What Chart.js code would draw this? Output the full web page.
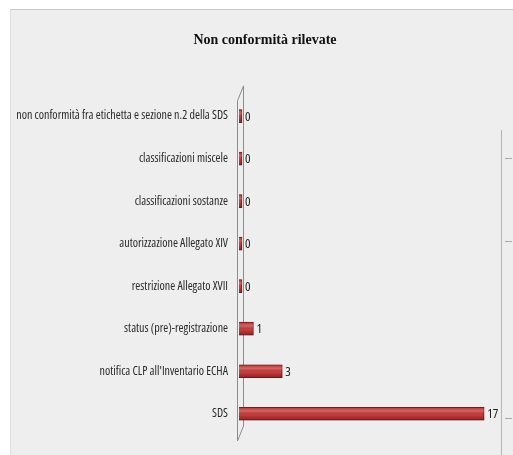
<!DOCTYPE html>
<html>
<head>
<meta charset="utf-8">
<script src="https://cdn.jsdelivr.net/npm/chart.js@4"></script>
<style>
  html, body { margin:0; padding:0; background:#fff; }
  #panel { position:absolute; left:10px; top:9px; width:503px; height:446px;
           background:#eeeeee; border-top:1px solid #c8c8c8; border-left:1px solid #e0e0e0; box-sizing:border-box; }
  #legendEdge { position:absolute; left:501px; top:130px; width:12px; height:325px;
                border-left:1px solid #b4b4b4; box-sizing:border-box; }
  .dash { position:absolute; left:505px; width:7px; height:1px; background:#aaa; }
  canvas { position:absolute; left:0; top:0; }
</style>
</head>
<body>
<div id="panel"><canvas id="c" width="502" height="445"></canvas></div>
<div id="legendEdge"></div>
<div class="dash" style="top:158px"></div>
<div class="dash" style="top:241px"></div>
<div class="dash" style="top:418px"></div>
<script>
// Non conformità rilevate — horizontal 3D-style bar chart
const categories = [
  'non conformità fra etichetta e sezione n.2 della SDS',
  'classificazioni miscele',
  'classificazioni sostanze',
  'autorizzazione Allegato XIV',
  'restrizione Allegato XVII',
  'status (pre)-registrazione',
  "notifica CLP all'Inventario ECHA",
  'SDS'
];
const counts = [0, 0, 0, 0, 0, 1, 3, 17];

// Open Sans is variable: 'condensed' in the weight slot gives a narrow face
const FONT = '"Open Sans", sans-serif';

// the thin 3D wall behind the category axis
const wall = {
  id: 'wall',
  beforeDatasetsDraw(chart) {
    const { ctx, chartArea: a, scales: { x } } = chart;
    const x0 = x.getPixelForValue(0) - 2;
    ctx.save();
    ctx.strokeStyle = '#8c8c8c';
    ctx.lineWidth = 1;
    ctx.beginPath();
    ctx.moveTo(x0 + 0.5, a.top + 6);
    ctx.lineTo(x0 + 0.5, a.bottom + 6);
    ctx.lineTo(x0 + 6.5, a.bottom - 9);
    ctx.lineTo(x0 + 6.5, a.top - 9);
    ctx.lineTo(x0 + 0.5, a.top + 6);
    ctx.stroke();
    ctx.restore();
  }
};

// cylinder shading + value labels
const barDecor = {
  id: 'barDecor',
  afterDatasetsDraw(chart) {
    const { ctx } = chart;
    const meta = chart.getDatasetMeta(0);
    ctx.save();
    meta.data.forEach((bar) => {
      const h = bar.height, top = bar.y - h / 2;
      const g = ctx.createLinearGradient(0, top, 0, top + h);
      g.addColorStop(0, 'rgba(120,20,20,0.3)');
      g.addColorStop(0.3, 'rgba(255,255,255,0.2)');
      g.addColorStop(0.6, 'rgba(0,0,0,0)');
      g.addColorStop(1, 'rgba(90,10,10,0.45)');
      ctx.fillStyle = g;
      ctx.fillRect(Math.min(bar.base, bar.x), top, Math.abs(bar.x - bar.base), h);
    });
    ctx.font = 'condensed 13px ' + FONT;
    ctx.fillStyle = '#222';
    ctx.textBaseline = 'middle';
    meta.data.forEach((bar, i) => {
      ctx.fillText(String(counts[i]), bar.x + 3, bar.y + 1);
    });
    ctx.restore();
  }
};

new Chart(document.getElementById('c'), {
  type: 'bar',
  data: {
    labels: categories,
    datasets: [{
      data: counts,
      backgroundColor: '#c73c3d',
      borderColor: '#7a1818',
      borderWidth: 1,
      minBarLength: 3,
      barThickness: 13
    }]
  },
  options: {
    indexAxis: 'y',
    responsive: false,
    animation: false,
    layout: { padding: { left: 6, right: 0, top: 0, bottom: 20 } },
    plugins: {
      legend: { display: false },
      tooltip: { enabled: false },
      title: {
        display: true,
        text: 'Non conformità rilevate',
        color: '#111',
        font: { family: '"Liberation Serif", serif', size: 14, weight: 'bold' },
        padding: { top: 22, bottom: 46 }
      }
    },
    scales: {
      x: {
        min: 0, max: 19,
        display: false
      },
      y: {
        grid: { display: false, drawTicks: false },
        border: { display: false },
        ticks: { color: '#2a2a2a', font: { family: FONT, size: 12, weight: 'condensed' }, padding: 11 },
        afterFit(scale) { scale.width = 222; }
      }
    }
  },
  plugins: [wall, barDecor]
});
</script>
</body>
</html>
